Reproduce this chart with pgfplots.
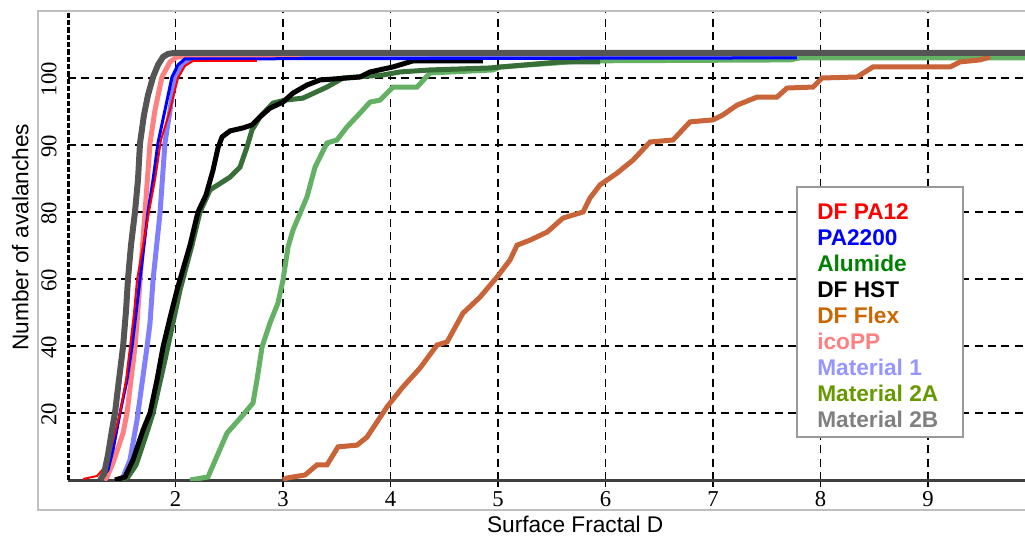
\documentclass[border=0pt]{standalone}
\usepackage{fontspec}
\setmainfont{Liberation Sans}
\newfontfamily\tickfont{Liberation Serif}
\usepackage{pgfplots}
\pgfplotsset{compat=1.18}

\definecolor{cRed}{RGB}{255,0,0}
\definecolor{cBlue}{RGB}{0,0,255}
\definecolor{cDkGreen}{RGB}{56,110,56}
\definecolor{cLtGreen}{RGB}{100,176,100}
\definecolor{cFlex}{RGB}{200,100,56}
\definecolor{cPink}{RGB}{255,128,128}
\definecolor{cLtBlue}{RGB}{128,128,255}
\definecolor{cGray}{RGB}{85,85,85}
% legend text colours
\definecolor{lAlumide}{RGB}{0,128,0}
\definecolor{lFlex}{RGB}{204,102,0}
\definecolor{lMat1}{RGB}{150,150,255}
\definecolor{lMat2A}{RGB}{102,153,0}
\definecolor{lMat2B}{RGB}{128,128,128}

\begin{document}
\begin{tikzpicture}
\begin{axis}[
    scale only axis,
    width=717.75pt, height=351pt,
    xmin=1, xmax=9.902, ymin=0, ymax=139.7,
    clip mode=individual,
    axis x line=bottom, axis y line=left,
    x axis line style={-, draw=black!75, line width=2.25pt},
    y axis line style={-, draw=black, line width=2.25pt, dash pattern=on 4pt off 1.5pt},
    xtick={2,3,4,5,6,7,8,9},
    ytick={20,40,60,80,100,120},
    yticklabels={20,40,60,80,90,100},
    grid=major,
    major grid style={black, line width=1.4pt, dash pattern=on 6pt off 4pt},
    xtick style={black, line width=1.4pt},
    ytick style={draw=none},
    tick align=outside,
    major tick length=5pt,
    /pgf/number format/assume math mode=true,
    ticklabel style={font=\tickfont\fontsize{17}{17}\selectfont},
    yticklabel style={rotate=90, anchor=south, xshift=-1pt},
    xlabel={Surface Fractal D},
    ylabel={Number of avalanches},
    label style={font=\fontsize{17}{17}\selectfont},
    xlabel style={at={(axis description cs:0.530,-0.094)}, anchor=center},
    ylabel style={at={(axis description cs:-0.050,0.519)}, anchor=center},
]
% Material 1
\addplot[cLtBlue, line width=3.75pt] coordinates {
 (1.484,0) (1.512,0.9) (1.577,6.0) (1.642,17.9) (1.651,20.0) (1.735,39.7) (1.763,46.9)
 (1.791,59.7) (1.856,79.7) (1.902,100.6) (1.949,110.4) (1.995,120.3) (2.088,124.8)
 (2.181,126.3) (9.902,126.3)
};
% icoPP
\addplot[cPink, line width=3.75pt] coordinates {
 (1.335,0) (1.363,0.9) (1.419,5.1) (1.512,14.0) (1.549,20.0) (1.586,29.9) (1.623,39.7)
 (1.642,46.9) (1.670,59.7) (1.716,79.7) (1.763,100.6) (1.809,110.4) (1.874,120.3)
 (1.949,124.8) (2.014,126.3) (3.158,126.3)
};
% Material 2A
\addplot[cLtGreen, line width=3.75pt] coordinates {
 (2.135,0) (2.302,0.9) (2.479,14.0) (2.628,19.4) (2.721,23.0) (2.758,29.9) (2.805,39.7)
 (2.879,46.9) (2.953,52.8) (3.000,59.7) (3.047,69.6) (3.093,74.6) (3.223,84.5)
 (3.298,93.4) (3.409,100.6) (3.502,101.5) (3.595,105.4) (3.716,109.5) (3.809,112.8)
 (3.902,113.4) (4.023,117.3) (4.247,117.3) (4.367,121.5) (4.953,122.4) (5.019,123.3)
 (5.549,124.5) (5.763,125.1) (7.716,125.4) (7.809,126.0) (9.902,126.0)
};
% Alumide
\addplot[cDkGreen, line width=3.75pt] coordinates {
 (1.502,0) (1.558,0.9) (1.633,4.5) (1.726,13.4) (1.791,20.0) (1.902,35.8) (2.042,56.7)
 (2.153,70.1) (2.228,80.0) (2.321,86.6) (2.507,90.4) (2.600,93.4) (2.665,99.4)
 (2.712,104.5) (2.786,108.4) (2.907,112.5) (3.019,113.4) (3.186,114.0) (3.409,117.3)
 (3.558,120.0) (3.930,120.9) (4.088,121.8) (4.367,122.4) (4.926,123.0) (5.577,124.8)
 (5.949,124.8)
};
% DF Flex
\addplot[cFlex, line width=3.75pt] coordinates {
 (3.000,0) (3.037,0.6) (3.205,1.5) (3.316,4.5) (3.409,4.5) (3.512,9.9) (3.688,10.4)
 (3.781,12.8) (3.967,21.8) (4.116,27.8) (4.274,33.4) (4.433,40.3) (4.526,41.2)
 (4.674,49.8) (4.833,54.6) (4.991,60.6) (5.112,65.7) (5.177,70.1) (5.298,71.6)
 (5.456,74.0) (5.605,78.2) (5.791,80.0) (5.856,84.2) (5.949,88.1) (6.107,91.6)
 (6.256,95.5) (6.414,100.9) (6.628,101.5) (6.786,106.9) (7.000,107.5) (7.093,109.0)
 (7.223,111.9) (7.409,114.3) (7.595,114.3) (7.688,117.0) (7.930,117.3) (8.014,120.0)
 (8.340,120.3) (8.488,123.3) (9.205,123.3) (9.298,124.8) (9.484,125.4) (9.577,126.3)
};
% DF HST
\addplot[black, line width=3.75pt] coordinates {
 (1.437,0) (1.530,0.9) (1.605,6.0) (1.698,14.9) (1.763,20.0) (1.828,29.9) (1.884,39.7)
 (1.949,48.4) (2.014,56.7) (2.060,61.8) (2.135,70.1) (2.209,80.0) (2.284,85.1)
 (2.349,92.5) (2.395,99.1) (2.433,102.4) (2.507,104.2) (2.628,105.1) (2.712,106.0)
 (2.786,108.4) (2.879,111.0) (3.000,112.8) (3.093,115.5) (3.223,117.9) (3.344,119.4)
 (3.716,120.3) (3.809,121.8) (4.023,123.3) (4.209,125.1) (4.860,125.1)
};
% PA2200
\addplot[cBlue, line width=2.25pt] coordinates {
 (1.298,0) (1.372,3.0) (1.419,9.0) (1.484,20.0) (1.549,29.9) (1.595,39.7) (1.633,49.8)
 (1.670,60.0) (1.744,80.0) (1.791,89.6) (1.837,100.6) (1.902,110.4) (1.967,120.3)
 (2.023,123.9) (2.088,125.7) (7.781,126.0)
};
% DF PA12
\addplot[cRed, line width=1.5pt] coordinates {
 (1.140,0.3) (1.270,1.2) (1.344,3.9) (1.409,10.4) (1.484,20.0) (1.540,29.9) (1.577,39.7)
 (1.614,49.8) (1.642,59.7) (1.698,70.1) (1.753,80.0) (1.809,89.6) (1.865,101.5)
 (1.949,110.4) (2.023,120.0) (2.088,123.6) (2.163,125.1) (2.758,125.1)
};
% Material 2B
\addplot[cGray, line width=4.5pt] coordinates {
 (1.298,0) (1.335,1.8) (1.372,7.5) (1.409,14.9) (1.437,20.0) (1.474,29.9) (1.512,39.7)
 (1.540,50.7) (1.558,60.0) (1.586,70.1) (1.623,80.0) (1.651,89.6) (1.670,100.6)
 (1.707,109.0) (1.744,114.9) (1.791,120.3) (1.837,123.9) (1.884,126.3) (1.930,127.2)
 (1.995,127.5) (9.902,127.5)
};
% outer frame
\draw[black!25, line width=1.5pt]
  (axis description cs:1.05,1.002) -- (axis description cs:-0.0313,1.002)
  -- (axis description cs:-0.0313,-0.0641) -- (axis description cs:1.05,-0.0641);
% legend
\node[draw=black!40, line width=1.5pt, fill=white, minimum width=124.5pt,
  minimum height=187.5pt, inner sep=0pt] at (axis description cs:0.8485,0.359) {};
\node[anchor=west, align=left, inner sep=0pt,
  font=\bfseries\fontsize{17}{19.5}\selectfont] at (axis description cs:0.7827,0.352) {%
  \textcolor{cRed}{DF PA12}\\
  \textcolor{cBlue}{PA2200}\\
  \textcolor{lAlumide}{Alumide}\\
  \textcolor{black}{DF HST}\\
  \textcolor{lFlex}{DF Flex}\\
  \textcolor{cPink}{icoPP}\\
  \textcolor{lMat1}{Material 1}\\
  \textcolor{lMat2A}{Material 2A}\\
  \textcolor{lMat2B}{Material 2B}};
\coordinate (bbsw) at (axis description cs:-0.07106,-0.11966);
\coordinate (bbne) at (axis description cs:1,1.02564);
\end{axis}
\pgfresetboundingbox
\path[use as bounding box] (bbsw) rectangle (bbne);
\end{tikzpicture}
\end{document}
